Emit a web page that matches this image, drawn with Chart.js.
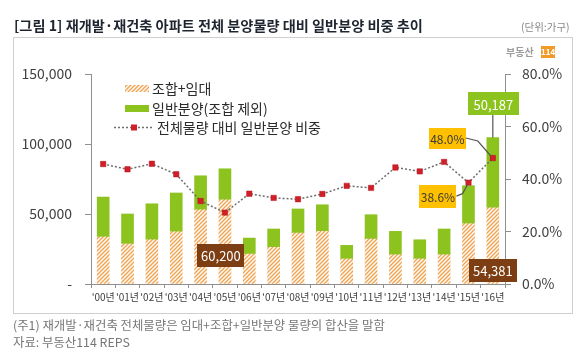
<!DOCTYPE html>
<html><head><meta charset="utf-8">
<script src="https://cdn.jsdelivr.net/npm/chart.js@4.4.0/dist/chart.umd.min.js"></script>
<style>
html,body{margin:0;padding:0;background:#fff;}
body{width:580px;height:353px;overflow:hidden;position:relative;font-family:"Noto Sans CJK KR","Noto Sans",sans-serif;}
canvas{position:absolute;left:0;top:0;}
.t{position:absolute;white-space:nowrap;line-height:1;}
</style></head><body>
<canvas id="c" width="580" height="353"></canvas>
<div class="t" id="title" style="left:14px;top:18px;font-size:14.2px;font-weight:bold;color:#1f2530;">[그림 1] 재개발·재건축 아파트 전체 분양물량 대비 일반분양 비중 추이</div>
<div class="t" style="left:521px;top:22px;font-size:10.5px;color:#8a8a8a;">(단위:가구)</div>
<div class="t" style="left:506px;top:47px;font-size:10px;font-weight:bold;color:#9b9b9b;">부동산</div>
<div class="t" style="left:541px;top:46px;width:14px;height:12px;background:#f09a28;color:#fff;font-size:8px;font-weight:bold;text-align:center;line-height:12px;">114</div>
<div class="t" style="left:13px;top:319px;font-size:12.4px;color:#767676;">(주1) 재개발·재건축 전체물량은 임대+조합+일반분양 물량의 합산을 말함</div>
<div class="t" style="left:13px;top:336px;font-size:12.4px;color:#767676;">자료: 부동산114 REPS</div>
<script>
const years = ["'00년","'01년","'02년","'03년","'04년","'05년","'06년","'07년","'08년","'09년","'10년","'11년","'12년","'13년","'14년","'15년","'16년"];
const unionRental = [33600, 28600, 31600, 37300, 53000, 60200, 21400, 26200, 36400, 37600, 17900, 32100, 20900, 17900, 20900, 43100, 54381];
const generalSale = [28500, 21400, 25700, 27700, 24300, 22100, 11400, 13100, 17200, 19000, 9700, 17400, 16700, 13700, 18400, 27100, 50187];
const shareGeneral = [45.7, 43.7, 45.8, 41.8, 31.6, 27.2, 34.4, 32.8, 32.3, 34.3, 37.4, 36.6, 44.4, 42.9, 46.5, 38.6, 48.0];
const leftTickValues = [0, 50000, 100000, 150000];
const leftTickLabels = ["-", "50,000", "100,000", "150,000"];
const rightTickValues = [0, 20, 40, 60, 80];
const rightTickLabels = ["0.0%", "20.0%", "40.0%", "60.0%", "80.0%"];
const seriesNames = ["조합+임대", "일반분양(조합 제외)", "전체물량 대비 일반분양 비중"];

const F = '"Noto Sans CJK KR","Noto Sans",sans-serif';
const GREEN = '#8cc31e', BROWN = '#7c3e12', GOLD = '#ffc000', RED = '#d11f2a', AXIS = '#8f8f8f';
const canvas = document.getElementById('c');
const ctx = canvas.getContext('2d');

const hatch = (() => {
  const c = document.createElement('canvas'); c.width = 4; c.height = 4;
  const g = c.getContext('2d');
  g.fillStyle = '#fffaf3'; g.fillRect(0, 0, 4, 4);
  g.strokeStyle = '#efa352'; g.lineWidth = 1.3;
  g.beginPath();
  g.moveTo(0, 4); g.lineTo(4, 0);
  g.moveTo(-1, 1); g.lineTo(1, -1);
  g.moveTo(3, 5); g.lineTo(5, 3);
  g.stroke();
  return ctx.createPattern(c, 'repeat');
})();

function box(c, cx, cy, w, h, fill, text, color, font) {
  c.save();
  c.fillStyle = fill;
  c.fillRect(Math.round(cx - w / 2), Math.round(cy - h / 2), w, h);
  c.fillStyle = color; c.font = font; c.textAlign = 'center'; c.textBaseline = 'middle';
  c.fillText(text, cx, cy + 1);
  c.restore();
}

const panelPlugin = {
  id: 'panel',
  beforeDraw(chart) {
    const c = chart.ctx;
    c.save();
    c.fillStyle = '#fff'; c.fillRect(0, 0, chart.width, chart.height);
    c.strokeStyle = '#cfcfcf'; c.lineWidth = 1;
    c.strokeRect(13.5, 37.5, 559, 276);
    c.restore();
  }
};

const overlayPlugin = {
  id: 'overlay',
  afterDatasetsDraw(chart) {
    const c = chart.ctx;
    const x = chart.scales.x, y = chart.scales.y, y1 = chart.scales.y1;
    // legend
    c.save();
    c.font = '14px ' + F; c.textBaseline = 'middle'; c.textAlign = 'left';
    c.fillStyle = hatch; c.fillRect(125, 85, 24, 7);
    c.fillStyle = '#2b2b2b'; c.fillText(seriesNames[0], 152, 89);
    c.fillStyle = GREEN; c.fillRect(125, 105, 24, 7);
    c.fillStyle = '#2b2b2b'; c.fillText(seriesNames[1], 152, 108.5);
    c.strokeStyle = '#6e6e6e'; c.lineWidth = 1.5; c.setLineDash([2, 2]);
    c.beginPath(); c.moveTo(114, 127.5); c.lineTo(153, 127.5); c.stroke();
    c.setLineDash([]);
    c.fillStyle = RED; c.fillRect(131, 124.5, 6, 6);
    c.fillStyle = '#2b2b2b'; c.fillText(seriesNames[2], 157, 128);
    c.restore();

    const last = years.length - 1;
    const fontB = '13px ' + F;
    // 60,200 label (2005 union+rental)
    box(c, x.getPixelForValue(5) - 4, y.getPixelForValue(0) - 28.5, 47, 23, BROWN, unionRental[5].toLocaleString('en-US'), '#fff', fontB);
    // 54,381 label (2016 union+rental)
    box(c, x.getPixelForValue(last), y.getPixelForValue(0) - 13.5, 48, 23, BROWN, unionRental[last].toLocaleString('en-US'), '#fff', fontB);
    // 50,187 label with connector
    const topY = y.getPixelForValue(unionRental[last] + generalSale[last]);
    const cx16 = x.getPixelForValue(last);
    c.save(); c.strokeStyle = '#555'; c.lineWidth = 1.2;
    c.beginPath(); c.moveTo(cx16, topY - 34 + 11); c.lineTo(cx16, topY); c.stroke(); c.restore();
    box(c, cx16 + 0.5, topY - 34, 51, 23, GREEN, generalSale[last].toLocaleString('en-US'), '#fff', fontB);
    // 48.0% label
    const p16 = { x: cx16, y: y1.getPixelForValue(shareGeneral[last]) };
    c.save(); c.strokeStyle = '#555'; c.lineWidth = 1.2;
    c.beginPath(); c.moveTo(p16.x - 27, p16.y - 20); c.lineTo(p16.x - 15, p16.y - 17); c.lineTo(p16.x - 2, p16.y - 2); c.stroke(); c.restore();
    box(c, p16.x - 45.5, p16.y - 20, 37, 21, GOLD, shareGeneral[last].toFixed(1) + '%', '#3a3a3a', '12px ' + F);
    // 38.6% label
    const p15 = { x: x.getPixelForValue(last - 1), y: y1.getPixelForValue(shareGeneral[last - 1]) };
    c.save(); c.strokeStyle = '#555'; c.lineWidth = 1.2;
    c.beginPath(); c.moveTo(p15.x - 12, p15.y + 13.5); c.lineTo(p15.x - 6, p15.y + 11); c.lineTo(p15.x - 1, p15.y + 2); c.stroke(); c.restore();
    box(c, p15.x - 30.5, p15.y + 13.5, 37, 23, GOLD, shareGeneral[last - 1].toFixed(1) + '%', '#3a3a3a', '12px ' + F);
  }
};

new Chart(ctx, {
  type: 'bar',
  data: {
    labels: years,
    datasets: [
      { label: seriesNames[0], data: unionRental, backgroundColor: hatch, yAxisID: 'y', stack: 's', barThickness: 12, order: 2 },
      { label: seriesNames[1], data: generalSale, backgroundColor: GREEN, yAxisID: 'y', stack: 's', barThickness: 12, order: 2 },
      { type: 'line', label: seriesNames[2], data: shareGeneral, yAxisID: 'y1', borderColor: '#6e6e6e', borderWidth: 1.5,
        borderDash: [2, 2], pointStyle: 'rect', pointRadius: 3.8, pointBackgroundColor: RED, pointBorderColor: '#b5121b',
        pointBorderWidth: 0.5, fill: false, tension: 0, order: 1 }
    ]
  },
  options: {
    responsive: false, animation: false, devicePixelRatio: 1,
    layout: { padding: { top: 74, left: 0, right: 0, bottom: 0 } },
    plugins: { legend: { display: false }, tooltip: { enabled: false } },
    scales: {
      x: {
        stacked: true, offset: true,
        grid: { offset: true, drawOnChartArea: false, tickLength: 4, color: AXIS },
        border: { color: AXIS },
        ticks: { autoSkip: false, maxRotation: 0, minRotation: 0, padding: 3, color: '#404040', font: { size: 10, family: F } },
        afterFit(s) { s.height = 69; }
      },
      y: {
        stacked: true, position: 'left', min: 0, max: 150000,
        afterBuildTicks(s) { s.ticks = leftTickValues.map(v => ({ value: v })); },
        grid: { drawOnChartArea: false, tickLength: 6, color: AXIS },
        border: { color: AXIS },
        ticks: { padding: 13, color: '#404040', font: { size: 14, family: F }, callback: (v, i) => leftTickLabels[i] },
        afterFit(s) { s.width = 91; }
      },
      y1: {
        position: 'right', min: 0, max: 80,
        afterBuildTicks(s) { s.ticks = rightTickValues.map(v => ({ value: v })); },
        grid: { drawOnChartArea: false, tickLength: 6, color: AXIS },
        border: { color: AXIS },
        ticks: { padding: 11, color: '#404040', font: { size: 14, family: F }, callback: (v, i) => rightTickLabels[i] },
        afterFit(s) { s.width = 75; }
      }
    }
  },
  plugins: [panelPlugin, overlayPlugin]
});
</script>
</body></html>
